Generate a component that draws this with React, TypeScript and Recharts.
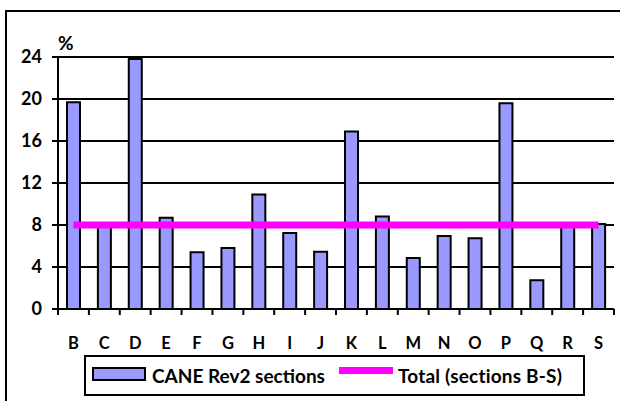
import React from 'react';
import {
  ComposedChart,
  Bar,
  Line,
  XAxis,
  YAxis,
  CartesianGrid,
  Legend,
} from 'recharts';

// Sections B..S
const sections = ['B', 'C', 'D', 'E', 'F', 'G', 'H', 'I', 'J', 'K', 'L', 'M', 'N', 'O', 'P', 'Q', 'R', 'S'];
const caneRev2 = [19.7, 7.9, 23.8, 8.7, 5.4, 5.8, 10.9, 7.25, 5.45, 16.9, 8.8, 4.85, 6.95, 6.75, 19.6, 2.75, 7.9, 8.1];
const totalBS = [8, 8, 8, 8, 8, 8, 8, 8, 8, 8, 8, 8, 8, 8, 8, 8, 8, 8];
const yTicks = [0, 4, 8, 12, 16, 20, 24];

const FONT = 'Lato, "Open Sans", sans-serif';
const BAR_FILL = '#9999ff';
const TOTAL_COLOR = '#ff00ff';

const data = sections.map((s, i) => ({ section: s, cane: caneRev2[i], total: totalBS[i] }));

// tick marks sit on the category boundaries, not the centres
const BoundaryTick = (props: any) => {
  const { x, y, payload, index } = props;
  const half = 556 / sections.length / 2;
  const isLast = index === sections.length - 1;
  // y = axis + tickSize + tickMargin, so the axis line is 28px above
  const top = y - 28;
  return (
    <g>
      <line x1={x - half} x2={x - half} y1={top} y2={top + 6} stroke="#000" strokeWidth={2} />
      {isLast && (
        <line x1={x + half} x2={x + half} y1={top} y2={top + 6} stroke="#000" strokeWidth={2} />
      )}
      <text x={x} y={y} dy="0.71em" textAnchor="middle" fontFamily={FONT} fontWeight={700} fontSize={16.5} fill="#000">
        {payload.value}
      </text>
    </g>
  );
};

const LegendBox = () => (
  <div
    style={{
      position: 'relative',
      boxSizing: 'border-box',
      width: 501,
      height: 41,
      border: '2px solid #000',
      background: '#fff',
      fontFamily: FONT,
      fontWeight: 700,
      fontSize: 19,
      lineHeight: '37px',
      color: '#000',
      whiteSpace: 'nowrap',
    }}
  >
    <span
      style={{
        position: 'absolute',
        boxSizing: 'border-box',
        left: 6,
        top: 10,
        width: 54,
        height: 14,
        background: BAR_FILL,
        border: '2px solid #000',
      }}
    />
    <span style={{ position: 'absolute', left: 66, top: 0 }}>CANE Rev2 sections</span>
    <span style={{ position: 'absolute', left: 253, top: 10, width: 54, height: 7, background: TOTAL_COLOR }} />
    <span style={{ position: 'absolute', left: 312, top: 0, letterSpacing: 0.2 }}>Total (sections B-S)</span>
  </div>
);

export default function App() {
  return (
    <div style={{ position: 'absolute', left: 0, top: 0, width: 620, height: 401, background: '#fff', overflow: 'hidden' }}>
      {/* outer frame, runs off the right and bottom edges */}
      <div
        style={{
          position: 'absolute',
          left: 5,
          top: 10,
          width: 640,
          height: 420,
          border: '2px solid #000',
        }}
      />
      <div
        style={{
          position: 'absolute',
          left: 58,
          top: 31,
          fontFamily: FONT,
          fontWeight: 700,
          fontSize: 19,
        }}
      >
        %
      </div>
      <div style={{ position: 'absolute', left: 0, top: 0 }}>
        <ComposedChart
          width={620}
          height={401}
          data={data}
          margin={{ top: 57, right: 6, bottom: 62, left: 0 }}
          barCategoryGap={0}
        >
          <CartesianGrid vertical={false} stroke="#000" strokeWidth={2} />
          <XAxis
            dataKey="section"
            height={30}
            tickLine={false}
            tickSize={6}
            tickMargin={22}
            axisLine={{ stroke: '#000', strokeWidth: 2 }}
            tick={<BoundaryTick />}
            interval={0}
          />
          <YAxis
            width={58}
            domain={[0, 24]}
            ticks={yTicks}
            tickSize={6}
            tickMargin={10}
            axisLine={{ stroke: '#000', strokeWidth: 2 }}
            tickLine={{ stroke: '#000', strokeWidth: 2 }}
            tick={{ fontFamily: FONT, fontWeight: 700, fontSize: 18, fill: '#000' }}
          />
          <YAxis
            yAxisId="frame"
            orientation="right"
            width={0}
            domain={[0, 24]}
            tick={false}
            tickLine={false}
            axisLine={{ stroke: '#000', strokeWidth: 2 }}
          />
          <Legend
            verticalAlign="middle"
            align="center"
            content={<LegendBox />}
            wrapperStyle={{ top: 355, left: 84, width: 501, height: 41 }}
          />
          <Bar
            dataKey="cane"
            name="CANE Rev2 sections"
            fill={BAR_FILL}
            stroke="#000"
            strokeWidth={2}
            barSize={13}
            isAnimationActive={false}
          />
          <Line
            dataKey="total"
            name="Total (sections B-S)"
            stroke={TOTAL_COLOR}
            strokeWidth={7}
            dot={false}
            activeDot={false}
            isAnimationActive={false}
          />
        </ComposedChart>
      </div>
    </div>
  );
}
